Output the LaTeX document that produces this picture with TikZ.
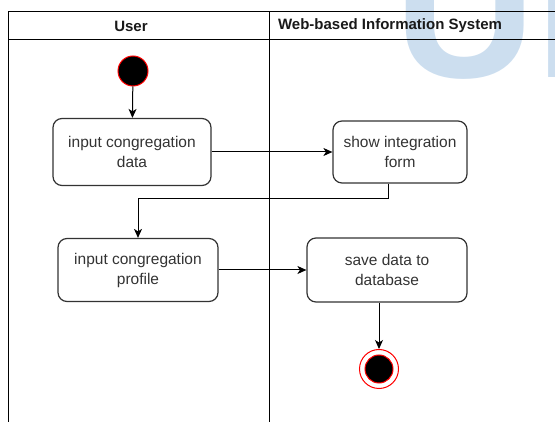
\documentclass[tikz,border=0pt]{standalone}
\usepackage{fontspec}
\setmainfont{Liberation Sans}
\usetikzlibrary{arrows.meta}
\definecolor{wmblue}{RGB}{204,222,239}
\definecolor{boxline}{RGB}{51,51,51}
\begin{document}
\begin{tikzpicture}[x=1pt,y=-1pt,
    act/.style={draw=boxline,line width=1.2pt,rounded corners=9pt,align=center,text=boxline,font=\fontsize{15.5}{20}\selectfont},
    lane/.style={draw=black,line width=1pt},
    hd/.style={font=\fontsize{15}{18}\selectfont\bfseries,text=black!90},
    flow/.style={draw,line width=1pt,-{Stealth[length=9pt,width=8pt,inset=2.5pt]}}]
\useasboundingbox (0,0) rectangle (555,422);
% watermark behind the lanes
\begin{scope}
    \clip (0,0) rectangle (555,422);
    \node[anchor=base west,inner sep=0pt,text=wmblue,font=\fontsize{196}{196}\selectfont\bfseries] at (394,78) (mark) {UN};
\end{scope}
% swimlanes
\draw[lane] (8,422) -- (8,12) -- (555,12);
\draw[lane] (8,40) -- (555,40);
\draw[lane] (269,12) -- (269,422);
\node[hd] at (131,26) (userhd) {User};
\node[hd] at (390,26) (syshd) {Web-based Information System};
% activities
\node[circle,fill=black,draw=red,line width=1pt,minimum size=30pt,inner sep=0pt] at (133,71) (start) {};
\node[act,minimum width=158pt,minimum height=67pt] at (132,152) (inData) {input congregation\\data};
\node[act,minimum width=134pt,minimum height=62pt] at (400,152) (showForm) {show integration\\form};
\node[act,minimum width=160pt,minimum height=63pt] at (138,270) (inProfile) {input congregation\\profile};
\node[act,minimum width=160pt,minimum height=64pt] at (387,270) (saveDb) {save data to\\database};
\node[circle,draw=red,line width=1pt,minimum size=39pt,inner sep=0pt] at (379,369) (finish) {};
\node[circle,fill=black,draw=red,line width=1pt,minimum size=28pt,inner sep=0pt] at (finish) (finishdot) {};
% flows
\path[flow] (start) -- (inData);
\path[flow] (inData) -- (showForm);
\path[flow] ([xshift=-12pt]showForm.south) -- ++(0,15) -| (inProfile);
\path[flow] (inProfile) -- (saveDb);
\path[flow] (saveDb.south -| finish) -- (finish);
\end{tikzpicture}
\end{document}
